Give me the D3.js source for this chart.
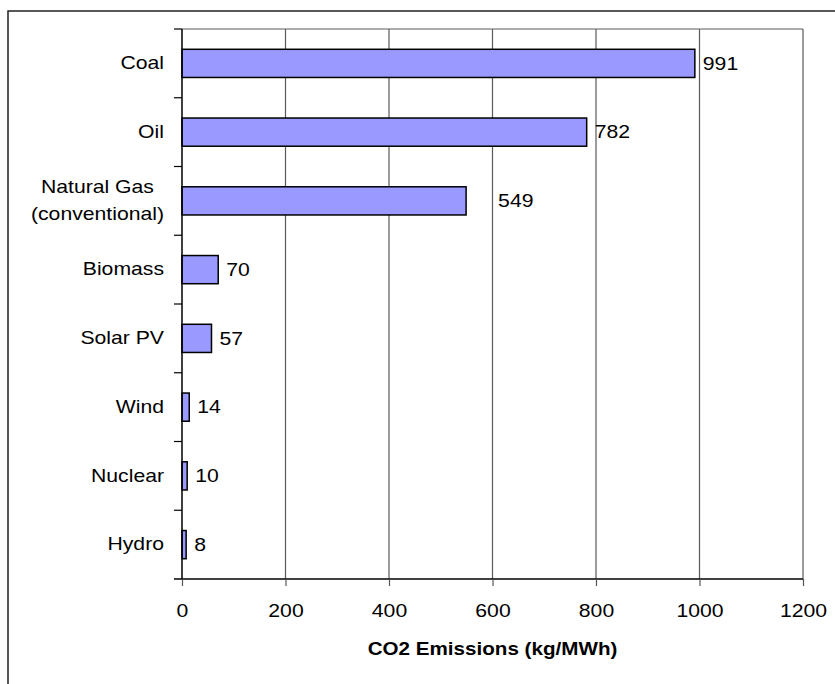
<!DOCTYPE html>
<html>
<head>
<meta charset="utf-8">
<script src="https://cdn.jsdelivr.net/npm/d3@7"></script>
<style>
  body { margin: 0; background: #fff; }
  text { font-family: "Liberation Sans", Arial, sans-serif; fill: #000; }
</style>
</head>
<body>
<div id="my-chart"></div>
<script>

// the data
var sources = ["Coal", "Oil", "Natural Gas|(conventional)", "Biomass", "Solar PV", "Wind", "Nuclear", "Hydro"];
var emissions = [991, 782, 549, 70, 57, 14, 10, 8];
var xTicks = [0, 200, 400, 600, 800, 1000, 1200];

// chart size and plot margins
var W = 835, H = 684;
var margin = {top: 29, right: 32, bottom: 105, left: 182},
    width = W - margin.left - margin.right,
    height = H - margin.top - margin.bottom;

// the original text is a bit stretched sideways
var stretch = 1.115;

var svg = d3.select("#my-chart")
    .append("svg")
    .attr("width", W)
    .attr("height", H);

// outer chart frame (runs off the right and bottom edge)
svg.append("rect")
    .attr("x", 8).attr("y", 11)
    .attr("width", W + 20).attr("height", H + 20)
    .attr("fill", "none")
    .attr("stroke", "#222")
    .attr("stroke-width", 1.5);

var g = svg.append("g")
    .attr("transform", "translate(" + margin.left + "," + margin.top + ")");

var x = d3.scaleLinear()
    .domain([0, 1200])
    .range([0, width]);

var y = d3.scaleBand()
    .domain(sources)
    .range([0, height])
    .paddingInner(0.59)
    .paddingOuter(0.295);

// vertical gridlines
g.selectAll(".grid")
    .data(xTicks.slice(1))
    .enter().append("line")
    .attr("x1", function(d) { return x(d); })
    .attr("x2", function(d) { return x(d); })
    .attr("y1", 0).attr("y2", height)
    .attr("stroke", "#5a5a5a")
    .attr("stroke-width", 1.2);

// top edge of plot
g.append("line")
    .attr("x1", 0).attr("x2", width)
    .attr("y1", 0).attr("y2", 0)
    .attr("stroke", "#5a5a5a")
    .attr("stroke-width", 1.2);

// bars
g.selectAll(".bar")
    .data(emissions)
    .enter().append("rect")
    .attr("x", x(0))
    .attr("y", function(d, i) { return y(sources[i]); })
    .attr("width", function(d) { return x(d) - x(0); })
    .attr("height", y.bandwidth())
    .attr("fill", "#9999ff")
    .attr("stroke", "#000")
    .attr("stroke-width", 1.5);

// value labels (the gas label sits further out in the original)
var nudge = {"Natural Gas|(conventional)": 24};
g.selectAll(".val")
    .data(emissions)
    .enter().append("text")
    .attr("transform", function(d, i) {
        var tx = x(d) + 8 + (nudge[sources[i]] || 0);
        var ty = y(sources[i]) + y.bandwidth() / 2;
        return "translate(" + tx + "," + ty + ") scale(" + stretch + ",1)";
    })
    .attr("dy", "0.33em")
    .style("font-size", "19px")
    .text(function(d) { return d; });

// x axis
var xAxis = g.append("g")
    .attr("transform", "translate(0," + height + ")")
    .call(d3.axisBottom(x).tickValues(xTicks).tickFormat(d3.format("d"))
        .tickSize(7).tickPadding(18));
xAxis.select(".domain").attr("stroke", "#000").attr("stroke-width", 1.5)
    .attr("d", "M-8,0H" + width);
xAxis.selectAll(".tick line").attr("stroke", "#555").attr("stroke-width", 1.2);
xAxis.selectAll("text")
    .attr("transform", "scale(" + stretch + ",1)")
    .style("font-size", "19px")
    .style("font-family", "Liberation Sans, Arial, sans-serif");

// y axis: ticks sit between categories
var step = y.step();
g.append("line")
    .attr("x1", 0).attr("x2", 0)
    .attr("y1", 0).attr("y2", height)
    .attr("stroke", "#000").attr("stroke-width", 1.5);
g.selectAll(".ytick")
    .data(sources.slice(1))
    .enter().append("line")
    .attr("x1", -8).attr("x2", 0)
    .attr("y1", function(d) { return y(d) - y.paddingInner() * step / 2; })
    .attr("y2", function(d) { return y(d) - y.paddingInner() * step / 2; })
    .attr("stroke", "#000").attr("stroke-width", 1.2);
g.append("line")
    .attr("x1", -8).attr("x2", 0)
    .attr("y1", 0).attr("y2", 0)
    .attr("stroke", "#000").attr("stroke-width", 1.2);

// category labels, wrapped lines are centred on each other
g.selectAll(".cat")
    .data(sources)
    .enter().append("text")
    .attr("text-anchor", "middle")
    .style("font-size", "19px")
    .each(function(d) {
        var lines = d.split("|");
        var t = d3.select(this);
        lines.forEach(function(line, k) {
            t.append("tspan")
                .attr("x", 0)
                .attr("y", (k - (lines.length - 1) / 2) * 27)
                .attr("dy", "0.3em")
                .text(line);
        });
        var w = d3.max(t.selectAll("tspan").nodes(), function(n) { return n.getComputedTextLength(); }) * stretch;
        t.attr("transform", "translate(" + (-18 - w / 2) + "," + (y(d) + y.bandwidth() / 2) + ") scale(" + stretch + ",1)");
    });

// axis title
g.append("text")
    .attr("transform", "translate(" + (width / 2) + "," + (height + 76) + ") scale(" + stretch + ",1)")
    .attr("text-anchor", "middle")
    .style("font-size", "18.5px")
    .style("font-weight", "bold")
    .text("CO2 Emissions (kg/MWh)");

</script>
</body>
</html>
